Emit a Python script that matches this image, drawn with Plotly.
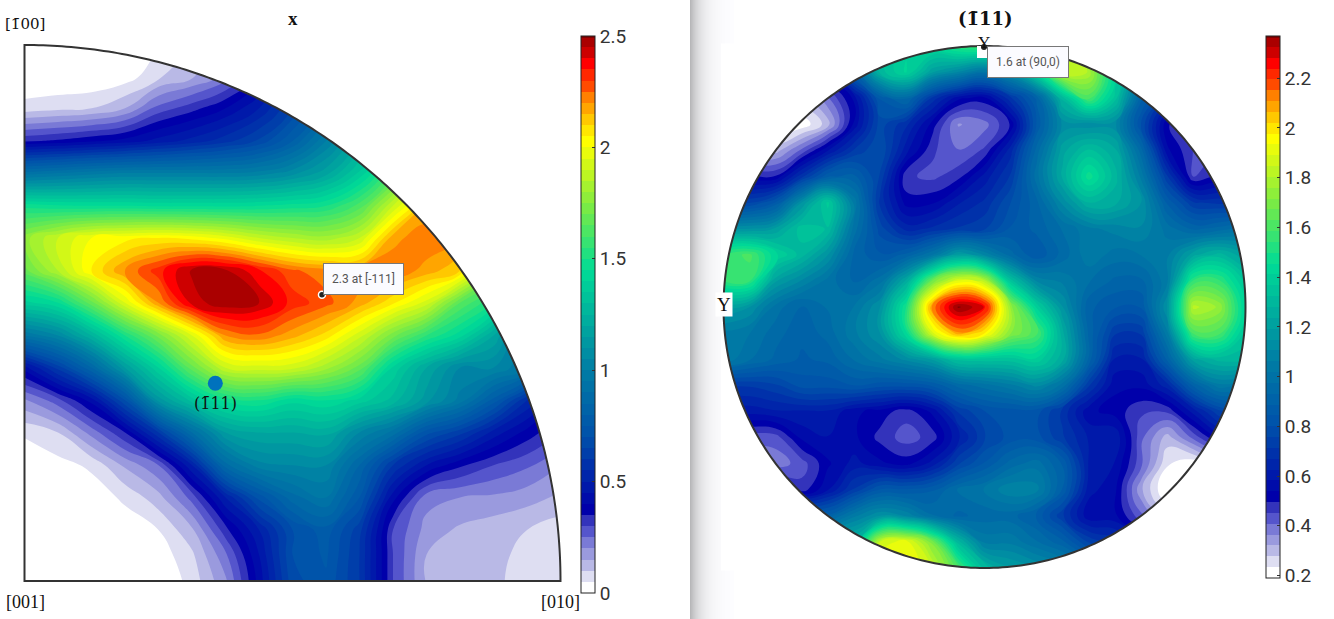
import plotly.graph_objects as go
import numpy as np

W, H = 1334, 619

# ----- values -----
# inverse pole figure, grid in units of the radius
ipf_x = [i / 16 for i in range(17)]
ipf_y = [1.003, 0.942, 0.882, 0.821, 0.761, 0.700, 0.640, 0.579, 0.519, 0.458,
         0.398, 0.337, 0.277, 0.216, 0.156, 0.095, 0.049, 0.0]
ipf_z = [
    [0, 0, 0, .01, .05, .10, .20, .35, .55, .75, 1.0, 1.2, 1.4, 1.6, 1.6, 1.5, 1.3],
    [0, 0, 0, .02, .09, .14, .22, .37, .60, .80, 1.0, 1.2, 1.4, 1.6, 1.6, 1.5, 1.3],
    [.07, .085, .10, .15, .27, .33, .40, .50, .65, .85, 1.05, 1.3, 1.5, 1.6, 1.6, 1.5, 1.3],
    [.34, .36, .39, .42, .47, .52, .58, .66, .80, 1.0, 1.2, 1.4, 1.6, 1.8, 1.8, 1.6, 1.4],
    [.92, .95, .98, 1.0, 1.0, 1.0, 1.0, 1.02, 1.08, 1.18, 1.36, 1.6, 1.9, 2.1, 2.0, 1.8, 1.5],
    [1.48, 1.46, 1.45, 1.45, 1.44, 1.44, 1.44, 1.45, 1.47, 1.50, 1.62, 1.90, 2.15, 2.2, 2.0, 1.7, 1.4],
    [1.78, 1.90, 2.00, 2.03, 2.05, 2.03, 1.98, 1.90, 1.85, 1.82, 1.90, 2.18, 2.24, 2.2, 1.9, 1.6, 1.3],
    [1.68, 1.85, 2.05, 2.20, 2.33, 2.46, 2.46, 2.36, 2.26, 2.22, 2.20, 2.24, 2.18, 2.10, 1.75, 1.5, 1.2],
    [1.38, 1.45, 1.68, 1.95, 2.20, 2.42, 2.49, 2.45, 2.33, 2.27, 2.18, 2.06, 1.93, 1.65, 1.50, 1.15, .90],
    [.95, 1.05, 1.25, 1.50, 1.72, 1.95, 2.20, 2.24, 2.17, 2.08, 1.92, 1.72, 1.55, 1.42, 1.20, .95, .70],
    [.42, .62, .85, 1.15, 1.40, 1.68, 1.90, 1.93, 1.92, 1.82, 1.68, 1.39, 1.20, 1.05, 1.05, .95, .50],
    [.19, .28, .42, .70, 1.12, 1.32, 1.47, 1.50, 1.42, 1.45, 1.38, 1.28, 1.12, .98, .78, .55, .40],
    [.06, .10, .22, .35, .60, .90, 1.15, 1.20, 1.20, 1.22, 1.05, .93, .72, .62, .48, .38, .30],
    [0, .03, .06, .16, .25, .50, .88, 1.03, 1.05, 1.05, .85, .60, .45, .36, .30, .26, .20],
    [0, 0, .02, .06, .13, .27, .50, .72, .88, .95, .75, .42, .22, .20, .19, .17, .14],
    [0, 0, 0, .02, .05, .14, .33, .50, .70, .78, .62, .30, .18, .14, .12, .10, .07],
    [0, 0, 0, 0, .02, .09, .24, .45, .70, .76, .60, .30, .15, .135, .115, .085, .06],
    [0, 0, 0, 0, 0, .07, .19, .42, .68, .74, .60, .30, .145, .13, .11, .08, .06],
]
ipf_ticks = [0, 0.5, 1, 1.5, 2, 2.5]
ipf_ticktext = ["0", "0.5", "1", "1.5", "2", "2.5"]

# pole figure, grid from -1 to 1 in units of the radius
pf_x = [round(-1 + i * 0.1, 1) for i in range(21)]
pf_y = [round(1 - i * 0.1, 1) for i in range(21)]
pf_z = [
    [.9, .9, .9, .9, 1.0, 1.1, 1.3, 1.4, 1.45, 1.55, 1.6, 1.65, 1.75, 1.8, 1.5, 1.3, 1.0, .8, .7, .6, .6],
    [.6, .6, .5, .5, .6, .9, 1.3, 1.42, 1.2, 1.1, 1.0, 1.15, 1.45, 1.85, 1.8, 1.4, 1.0, .8, .7, .6, .6],
    [.3, .3, .25, .3, .4, .55, .85, .95, .70, .55, .52, .70, .90, 1.3, 1.6, 1.35, .90, .70, .55, .5, .5],
    [.25, .25, .2, .2, .3, .55, .78, .68, .52, .36, .39, .50, .85, 1.12, 1.12, 1.12, .80, .50, .45, .45, .45],
    [.3, .3, .3, .42, .58, .72, .80, .60, .46, .41, .46, .65, .95, 1.22, 1.33, 1.25, .95, .55, .45, .45, .45],
    [.5, .5, .5, .70, .88, .90, .75, .46, .44, .48, .60, .72, 1.0, 1.25, 1.48, 1.30, 1.05, .72, .45, .50, .5],
    [.75, .75, .85, 1.15, 1.38, 1.05, .70, .52, .53, .62, .68, .80, .92, 1.12, 1.28, 1.25, 1.15, .88, .72, .70, .7],
    [1.15, 1.15, 1.20, 1.35, 1.32, 1.00, .78, .65, .68, .72, .75, .85, .90, .98, 1.05, 1.08, 1.10, 1.0, .92, .95, 1.0],
    [1.55, 1.60, 1.42, 1.30, 1.15, .92, .85, .90, 1.02, 1.20, 1.10, .95, .85, .95, 1.05, 1.0, 1.02, 1.05, 1.22, 1.30, 1.2],
    [1.55, 1.55, 1.20, 1.10, 1.0, .92, 1.0, 1.25, 1.68, 1.90, 1.82, 1.35, 1.10, 1.05, .98, .92, .92, 1.05, 1.55, 1.55, 1.35],
    [1.2, 1.15, 1.0, .92, .98, 1.02, 1.15, 1.50, 2.12, 2.38, 2.28, 1.75, 1.40, 1.15, .90, .85, .85, 1.15, 1.82, 1.75, 1.4],
    [1.05, 1.02, .95, .90, .95, 1.05, 1.15, 1.45, 1.88, 2.10, 1.98, 1.72, 1.60, 1.25, .92, .72, .72, 1.05, 1.60, 1.60, 1.35],
    [1.05, .98, .92, .88, .90, .98, 1.05, 1.12, 1.20, 1.35, 1.35, 1.35, 1.40, 1.25, .92, .62, .62, .90, 1.22, 1.30, 1.3],
    [.72, .72, .75, .82, .82, .85, .82, .82, .85, .95, 1.0, 1.05, 1.12, 1.0, .72, .55, .55, .65, .90, 1.05, 1.0],
    [.6, .6, .62, .62, .62, .55, .52, .47, .55, .72, .80, .82, .82, .70, .55, .52, .46, .46, .60, .75, .8],
    [.42, .42, .43, .55, .58, .55, .48, .43, .47, .62, .75, .82, .82, .72, .62, .62, .42, .30, .42, .55, .6],
    [.38, .38, .38, .43, .53, .60, .55, .52, .60, .75, .85, .95, 1.0, .88, .62, .58, .42, .24, .20, .30, .4],
    [.55, .55, .55, .47, .58, .72, .85, .85, .88, .98, 1.02, 1.10, 1.08, .88, .60, .55, .33, .18, .18, .25, .3],
    [.9, .9, .9, .9, .9, 1.05, 1.15, 1.10, .98, .92, .95, .95, .88, .72, .55, .55, .42, .30, .3, .3, .3],
    [1.3, 1.3, 1.3, 1.3, 1.3, 1.3, 1.85, 1.92, 1.70, 1.30, 1.05, 1.05, .98, .90, .75, .7, .6, .5, .4, .4, .4],
    [1.6, 1.6, 1.6, 1.6, 1.6, 1.6, 1.95, 1.95, 1.85, 1.60, 1.30, 1.20, 1.15, 1.10, 1.0, .9, .8, .7, .6, .5, .5],
]
pf_ticks = [0.2, 0.4, 0.6, 0.8, 1, 1.2, 1.4, 1.6, 1.8, 2, 2.2]
pf_ticktext = ["0.2", "0.4", "0.6", "0.8", "1", "1.2", "1.4", "1.6", "1.8", "2", "2.2"]

# white to blue, then jet-like. Bands take the colour at their middle
cmap = [
    [0.00, "rgb(255,255,255)"], [0.01, "rgb(255,255,255)"], [0.03, "rgb(222,222,242)"], [0.05, "rgb(185,185,230)"],
    [0.07, "rgb(154,154,222)"], [0.09, "rgb(122,122,214)"], [0.11, "rgb(85,85,204)"],
    [0.13, "rgb(51,51,187)"], [0.15, "rgb(0,0,170)"], [0.28, "rgb(0,80,170)"],
    [0.40, "rgb(0,125,165)"], [0.58, "rgb(0,220,150)"], [0.69, "rgb(120,235,70)"],
    [0.81, "rgb(255,255,0)"], [0.83, "rgb(255,230,0)"], [0.85, "rgb(255,200,0)"],
    [0.87, "rgb(255,165,0)"], [0.89, "rgb(255,128,0)"], [0.91, "rgb(255,75,0)"],
    [0.93, "rgb(255,40,0)"], [0.95, "rgb(255,0,0)"], [0.97, "rgb(205,0,0)"],
    [0.99, "rgb(170,0,0)"], [1.00, "rgb(128,0,0)"],
]

DARK = "#333333"
SERIF = "Liberation Serif"
BAR_SERIF = "DejaVu Serif"  # sets the combining bar over the 1 properly
SANS = "Roboto"


def px_x(p):
    return p / W


def px_y(p):
    return 1 - p / H


def cbar(x_px, top, bottom, vals, text):
    return dict(
        x=px_x(x_px), xanchor="left", thickness=14, thicknessmode="pixels",
        y=px_y(bottom), yanchor="bottom", len=(bottom - top) / H, lenmode="fraction",
        tickvals=vals, ticktext=text, ticks="inside", ticklen=3, tickcolor=DARK, tickwidth=1,
        outlinecolor="#222222", outlinewidth=1, xpad=0, ypad=0,
        tickfont=dict(family=SANS, size=19, color=DARK),
    )


fig = go.Figure()

fig.add_trace(go.Contour(
    x=ipf_x, y=ipf_y[::-1], z=ipf_z[::-1], colorscale=cmap, zmin=0, zmax=2.5,
    contours=dict(start=0, end=2.5, size=0.05, coloring="fill", showlines=False),
    line=dict(width=0, smoothing=1.3), hoverinfo="skip",
    colorbar=cbar(581, 36, 593, ipf_ticks, ipf_ticktext),
    xaxis="x", yaxis="y",
))

fig.add_trace(go.Contour(
    x=pf_x, y=pf_y[::-1], z=pf_z[::-1], colorscale=cmap, zmin=0.19, zmax=2.37,
    contours=dict(start=0.19, end=2.37, size=0.0436, coloring="fill", showlines=False),
    line=dict(width=0, smoothing=1.3), hoverinfo="skip",
    colorbar=cbar(1266, 36, 578, pf_ticks, pf_ticktext),
    xaxis="x2", yaxis="y2",
))

# (-111) marker and the data tip dot
fig.add_trace(go.Scatter(x=[0.356], y=[0.369], mode="markers", hoverinfo="skip",
                         marker=dict(size=15, color="#0072BD"), xaxis="x", yaxis="y"))
fig.add_trace(go.Scatter(x=[0.555], y=[0.534], mode="markers", hoverinfo="skip",
                         marker=dict(size=7, color="#222222", line=dict(color="white", width=1.5)),
                         xaxis="x", yaxis="y"))

t = np.linspace(0, np.pi / 2, 181)
arc = [f"{np.cos(a):.5f},{np.sin(a):.5f}" for a in t]
quarter_line = "M0,0 L" + " L".join(arc) + " Z"
quarter_mask = "M1,0 L" + " L".join(arc) + " L0,1.02 L1.02,1.02 L1.02,0 Z"

t = np.linspace(0, 2 * np.pi, 361)
ring = [f"{np.cos(a):.5f},{np.sin(a):.5f}" for a in t]
disc_line = "M" + " L".join(ring) + " Z"
disc_mask = "M" + " L".join(ring) + " Z M-1.02,-1.02 L-1.02,1.02 L1.02,1.02 L1.02,-1.02 Z"

shapes = [
    dict(type="path", path=quarter_mask, xref="x", yref="y", fillcolor="white", line=dict(width=0), layer="above"),
    dict(type="path", path=quarter_line, xref="x", yref="y", line=dict(color=DARK, width=2), layer="above"),
    dict(type="path", path=disc_mask, xref="x2", yref="y2", fillcolor="white", line=dict(width=0), layer="above"),
    dict(type="path", path=disc_line, xref="x2", yref="y2", line=dict(color=DARK, width=2), layer="above"),
    # white box of the top Y label, then the tip dot on the rim
    dict(type="rect", xref="paper", yref="paper", x0=px_x(977), x1=px_x(990), y0=px_y(58), y1=px_y(46),
         fillcolor="white", line=dict(width=0), layer="above"),
    dict(type="circle", xref="paper", yref="paper", x0=px_x(981), x1=px_x(987), y0=px_y(50), y1=px_y(44),
         fillcolor="#222222", line=dict(width=0), layer="above"),
]

# shadow between the two panels
for i in range(44):
    g = int(255 - 72 * np.exp(-i / 11))
    shapes.append(dict(type="rect", xref="paper", yref="paper", x0=px_x(690 + i), x1=px_x(691 + i), y0=0, y1=1,
                       fillcolor=f"rgb({g},{g},{min(g + 2, 255)})", line=dict(width=0), layer="below"))


def label(x, y, text, size=19, family=SERIF, **kw):
    return dict(x=px_x(x), y=px_y(y), xref="paper", yref="paper", text=text, showarrow=False,
                xanchor="center", yanchor="middle",
                font=dict(family=family, size=size, color="#111111"), **kw)


tip = dict(bgcolor="#fbfbff", bordercolor="#777777", borderwidth=1, borderpad=8)
annotations = [
    label(25, 24, "[1\u0304" + "00]", 15, BAR_SERIF),
    label(25, 602, "[001]", 18),
    label(560, 602, "[010]", 18),
    label(293, 18, "<b>x</b>", 19),
    label(215, 403, "(1\u0304" + "11)", 16, BAR_SERIF),
    label(985, 18, "<b>(1\u0304" + "11)</b>", 18, BAR_SERIF),
    label(724, 305, "Y", 19, bgcolor="white"),
    label(984, 42, "Y", 17),
    label(364, 279, "2.3 at [-111]", 12, SANS, **tip),
    label(1028, 62, "1.6 at (90,0)", 12, SANS, **tip),
]
for a in annotations[-2:]:
    a["font"]["color"] = "#555555"

hidden = dict(visible=False, showgrid=False, zeroline=False)
fig.update_layout(
    width=W, height=H, margin=dict(l=0, r=0, t=0, b=0), autosize=False,
    paper_bgcolor="white", plot_bgcolor="white", showlegend=False,
    xaxis=dict(domain=[px_x(24.5 - 5.36), px_x(560.5 + 5.36)], range=[-0.01, 1.01], **hidden),
    yaxis=dict(domain=[px_y(581 + 5.36), px_y(45 - 5.36)], range=[-0.01, 1.01], **hidden),
    xaxis2=dict(domain=[px_x(984.5 - 263.61), px_x(984.5 + 263.61)], range=[-1.01, 1.01], **hidden),
    yaxis2=dict(domain=[px_y(307 + 263.61), px_y(307 - 263.61)], range=[-1.01, 1.01], **hidden),
    shapes=shapes, annotations=annotations,
)

fig.write_html("out.html", config={"displayModeBar": False},
               post_script="document.body.style.margin = '0';")
